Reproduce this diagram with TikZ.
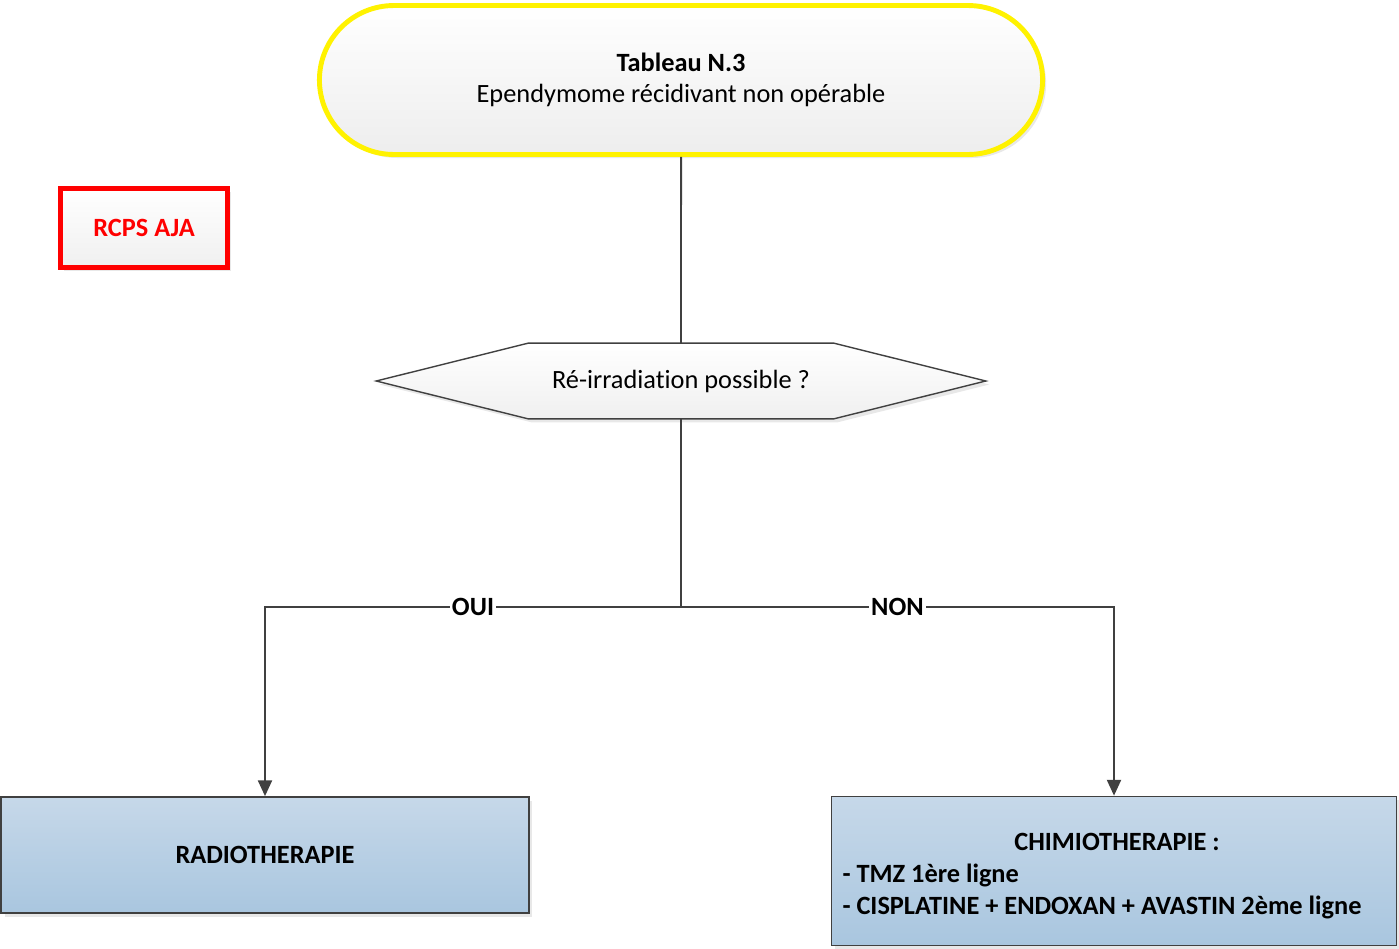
\documentclass[tikz,border=0pt]{standalone}
\usepackage{fontspec}
\setmainfont{Carlito}[Ligatures=NoCommon]
\usetikzlibrary{arrows.meta,shapes.misc,shadows}
\definecolor{lineGray}{HTML}{404040}
\definecolor{boxTop}{HTML}{C6D8E9}
\definecolor{boxBot}{HTML}{A9C6DF}
\begin{document}
\begin{tikzpicture}[x=0.02cm,y=-0.02cm,
  every node/.style={font=\fontsize{15}{18}\selectfont},
  shade/.style={drop shadow={shadow xshift=2pt,shadow yshift=-2pt,opacity=0.18}},
  start/.style={rounded rectangle,draw=yellow,line width=2.8pt,top color=white,bottom color=gray!14,
    minimum width=14.7cm,minimum height=2.98cm,align=center,shade},
  tag/.style={rectangle,draw=red,line width=2.6pt,top color=white,bottom color=gray!12,
    minimum width=3.34cm,minimum height=1.58cm,text=red,font=\fontsize{15}{18}\selectfont\bfseries,shade},
  therapy/.style={rectangle,draw=lineGray,line width=1pt,top color=boxTop,bottom color=boxBot,
    font=\fontsize{15}{18.2}\selectfont\bfseries,shade},
  line/.style={draw=lineGray,line width=1.1pt},
  arrow/.style={line,-{Triangle[length=9pt,width=8pt]}},
  lbl/.style={fill=white,inner sep=1pt,font=\fontsize{15}{18}\selectfont\bfseries}]

    \useasboundingbox (0,0) rectangle (1399,948);

    % nodes
    \node[start] (start) at (681,80) {\textbf{Tableau N.3}\\Ependymome récidivant non opérable};
    \node[tag] (rcp) at (144,228) {RCPS AJA};
    \node[minimum width=12.18cm,minimum height=1.5cm] (decision) at (681,381) {};
    \path[draw=lineGray,line width=0.8pt,top color=white,bottom color=gray!12,shade]
        (decision.west) -- ([xshift=3.04cm]decision.north west) -- ([xshift=-3.04cm]decision.north east)
        -- (decision.east) -- ([xshift=-3.04cm]decision.south east) -- ([xshift=3.04cm]decision.south west) -- cycle;
    \node at (decision) {Ré-irradiation possible ?};
    \node[therapy,minimum width=10.56cm,minimum height=2.32cm] (radio) at (265,855) {RADIOTHERAPIE};
    \node[therapy,minimum width=11.3cm,minimum height=2.98cm] (chimio) at (1114,871)
        {\begin{tabular}{@{}l@{\hspace{0.48cm}}}\multicolumn{1}{@{\hspace{0.30cm}}c@{\hspace{0.18cm}}}{\rule{0pt}{18.3pt}CHIMIOTHERAPIE :}\\
         - TMZ 1ère ligne\\
         - CISPLATINE + ENDOXAN + AVASTIN 2ème ligne\end{tabular}};
    \coordinate (split) at (681,607);

    % connectors
    \draw[line] (start) -- (decision);
    \draw[line] (decision.south) -- (split);
    \draw[arrow] (split) -| node[lbl,pos=0.25] {OUI} (radio);
    \draw[arrow] (split) -| node[lbl,pos=0.25] {NON} (chimio);
\end{tikzpicture}
\end{document}
